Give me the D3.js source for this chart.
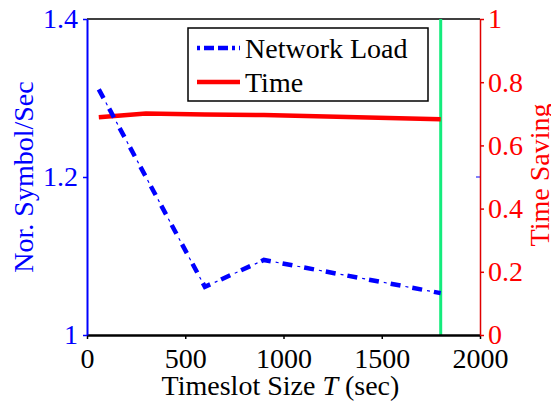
<!DOCTYPE html>
<html>
<head>
<meta charset="utf-8">
<script src="https://cdn.jsdelivr.net/npm/d3@7"></script>
<style>
  body { margin: 0; background: #fff; }
  svg text { font-family: "Liberation Serif", "DejaVu Serif", serif !important; }
</style>
</head>
<body>
<svg width="551" height="405"></svg>
<script>
// data
const timeslot = [60, 300, 600, 900, 1800];
const networkLoad = [1.311, 1.2, 1.061, 1.095, 1.053];
const timeSaving = [0.689, 0.701, 0.698, 0.696, 0.683];
const markerX = [1800];
const xTicks = [0, 500, 1000, 1500, 2000];
const yLeftTicks = [1, 1.2, 1.4];
const yRightTicks = [0, 0.2, 0.4, 0.6, 0.8, 1];

const serif = "'Liberation Serif', 'DejaVu Serif', serif";
const svg = d3.select("svg").attr("font-family", serif);
const plotLeft = 87, plotRight = 480, plotTop = 19, plotBottom = 335;

const x = d3.scaleLinear().domain([0, 2000]).range([plotLeft, plotRight]);
const yL = d3.scaleLinear().domain([1, 1.4]).range([plotBottom, plotTop]);
const yR = d3.scaleLinear().domain([0, 1]).range([plotBottom, plotTop]);

const fmt = d => String(d);

// top border
svg.append("line")
  .attr("x1", plotLeft).attr("x2", plotRight)
  .attr("y1", plotTop).attr("y2", plotTop)
  .attr("stroke", "black").attr("stroke-width", 1.5);

// mirrored blue tick on right side
svg.append("line")
  .attr("x1", plotRight - 4).attr("x2", plotRight)
  .attr("y1", yL(1.2)).attr("y2", yL(1.2))
  .attr("stroke", "blue").attr("stroke-width", 1);

// green vertical marker
svg.selectAll(".marker")
  .data(markerX)
  .join("line")
  .attr("x1", d => x(d)).attr("x2", d => x(d))
  .attr("y1", plotTop).attr("y2", plotBottom)
  .attr("stroke", "#14eb7c").attr("stroke-width", 3);

// x axis
const xAxis = svg.append("g")
  .attr("transform", `translate(0, ${plotBottom})`)
  .call(d3.axisBottom(x).tickValues(xTicks).tickFormat(fmt).tickSize(4).tickSizeOuter(0))
  .attr("font-family", serif);
xAxis.select(".domain").attr("stroke", "black").attr("stroke-width", 2.5);
xAxis.selectAll(".tick line").attr("stroke", "black").attr("stroke-width", 1.5);
xAxis.selectAll("text")
  .attr("font-size", 28).attr("fill", "black")
  .attr("dy", null).attr("y", 33);

// left axis
const lAxis = svg.append("g")
  .attr("transform", `translate(${plotLeft}, 0)`)
  .call(d3.axisLeft(yL).tickValues(yLeftTicks).tickFormat(fmt).tickSize(4).tickSizeOuter(0))
  .attr("font-family", serif);
lAxis.select(".domain").attr("stroke", "blue").attr("stroke-width", 2);
lAxis.selectAll(".tick line").attr("stroke", "blue").attr("stroke-width", 1.5);
lAxis.selectAll("text")
  .attr("font-size", 28).attr("fill", "blue").attr("x", -9);

// right axis
const rAxis = svg.append("g")
  .attr("transform", `translate(${plotRight}, 0)`)
  .call(d3.axisRight(yR).tickValues(yRightTicks).tickFormat(fmt).tickSize(4).tickSizeOuter(0))
  .attr("font-family", serif);
rAxis.select(".domain").attr("stroke", "#e00000").attr("stroke-width", 1.5);
rAxis.selectAll(".tick line").attr("stroke", "#e00000").attr("stroke-width", 1.5);
rAxis.selectAll("text")
  .attr("font-size", 28).attr("fill", "red").attr("x", 8);

// series
const loadLine = d3.line()
  .x((d, i) => x(timeslot[i]))
  .y(d => yL(d));
const timeLine = d3.line()
  .x((d, i) => x(timeslot[i]))
  .y(d => yR(d));

svg.append("path")
  .attr("d", timeLine(timeSaving))
  .attr("fill", "none").attr("stroke", "red").attr("stroke-width", 4.5);

// dash-dot: thick dashes plus thin dots
svg.append("path")
  .attr("d", loadLine(networkLoad))
  .attr("fill", "none").attr("stroke", "blue").attr("stroke-width", 4.5)
  .attr("stroke-dasharray", "10,12");
svg.append("path")
  .attr("d", loadLine(networkLoad))
  .attr("fill", "none").attr("stroke", "blue").attr("stroke-width", 1.2)
  .attr("stroke-dasharray", "0,15,3,4");

// legend
const lg = svg.append("g");
lg.append("rect")
  .attr("x", 188).attr("y", 28).attr("width", 240).attr("height", 73)
  .attr("fill", "white").attr("stroke", "black").attr("stroke-width", 1.5);
lg.append("line")
  .attr("x1", 197).attr("x2", 240).attr("y1", 48).attr("y2", 48)
  .attr("stroke", "blue").attr("stroke-width", 4.5).attr("stroke-dasharray", "3,4,10,4,10,4");
lg.append("line")
  .attr("x1", 197).attr("x2", 240).attr("y1", 82).attr("y2", 82)
  .attr("stroke", "red").attr("stroke-width", 4.5);
lg.append("text").attr("x", 245).attr("y", 58).attr("font-size", 28).text("Network Load");
lg.append("text").attr("x", 245).attr("y", 92).attr("font-size", 28).text("Time");

// axis titles
const xt = svg.append("text")
  .attr("x", (plotLeft + plotRight) / 2 - 3).attr("y", 395)
  .attr("text-anchor", "middle").attr("font-size", 28);
xt.append("tspan").text("Timeslot Size ");
xt.append("tspan").attr("font-style", "italic").text("T");
xt.append("tspan").text(" (sec)");

svg.append("text")
  .attr("transform", `translate(33, ${(plotTop + plotBottom) / 2}) rotate(-90)`)
  .attr("text-anchor", "middle").attr("font-size", 28).attr("fill", "blue")
  .text("Nor. Symbol/Sec");

svg.append("text")
  .attr("transform", `translate(549, ${(plotTop + plotBottom) / 2 - 2}) rotate(-90)`)
  .attr("text-anchor", "middle").attr("font-size", 28).attr("fill", "red")
  .text("Time Saving");
</script>
</body>
</html>
